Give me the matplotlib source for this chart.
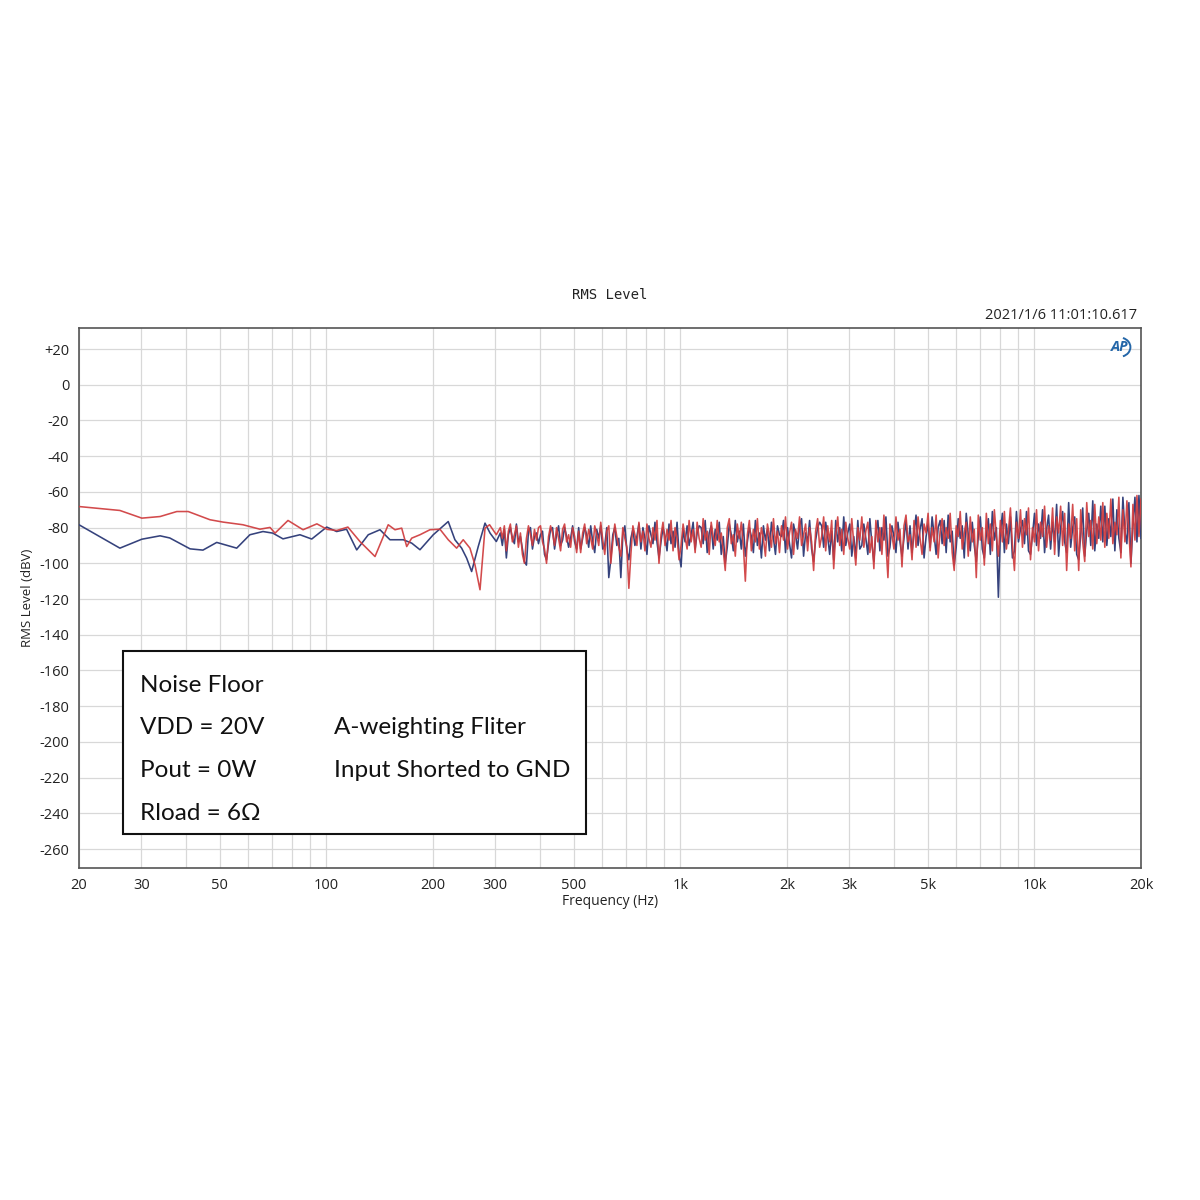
import numpy as np
import matplotlib
matplotlib.use("Agg")
import matplotlib.pyplot as plt
from matplotlib.patches import Rectangle, Arc
from matplotlib.ticker import FixedLocator, FixedFormatter, NullFormatter

# ---------------------------------------------------------------------------
# Data (dBV vs Hz)
# ---------------------------------------------------------------------------
# low-frequency part: smooth, the two channels are clearly separate
low_freq_red = [20, 26.1, 30.1, 33.9, 37.8, 40.7, 46.9, 51, 58.1, 64.9, 69.3,
                71.6, 77.9, 85.9, 94, 100.5, 107, 115, 124.4, 137.2, 149.5,
                156.2, 163.2, 168.6, 174.2, 183.8, 196.1, 209.3, 220.9, 233.3,
                243.5, 254.4, 262.8, 271.6, 280.6, 289, 302]
low_red_dbv = [-68.2, -70.4, -74.7, -73.8, -71, -71, -75.6, -76.9, -78.4, -80.9,
               -79.9, -83.1, -76, -81.2, -77.9, -81, -81.6, -79.7, -87.8, -96.2,
               -78.4, -81.2, -80.3, -90.6, -85.9, -84, -81.2, -80.9, -86.8,
               -91.5, -86.8, -91.5, -100.8, -114.8, -80.3, -78.4, -84]

low_freq_blue = [20, 26.1, 30.1, 33.9, 36.1, 41.2, 44.8, 49, 55.8, 60.8, 66.2,
                 70.6, 75.4, 84.2, 90.9, 100.2, 106.9, 114, 121.8, 131.3, 141.7,
                 151.2, 164.9, 174.2, 183.8, 200.4, 220.9, 230.7, 241, 249,
                 257.2, 268.5, 280.6, 290, 302]
low_blue_dbv = [-78.4, -91.5, -86.5, -84.6, -85.8, -91.9, -92.6, -88.3, -91.5,
                -84, -82.2, -83.1, -86.3, -84, -86.4, -79.7, -82.2, -80.9,
                -92.5, -84, -81.2, -86.8, -86.8, -88.7, -92.4, -84, -76.6,
                -86.8, -91.5, -97.1, -104.6, -90.6, -77.5, -83.1, -87.8]

# dense part (310 Hz .. 20 kHz), one reading per plotted bin
red_dbv_dense = [
    -80, -86, -79, -93, -82, -78, -88, -84, -79, -91, -83, -95, -100, -86, -79, -84, -90, -81, -87, -80,
    -79, -88, -92, -100, -85, -79, -83, -90, -80, -86, -93, -81, -78, -88, -84, -91, -80, -85, -94, -82,
    -94, -83, -78, -89, -81, -86, -92, -79, -84, -90, -77, -87, -95, -82, -79, -100, -88, -78, -85, -91,
    -96, -80, -86, -91, -114, -95, -79, -84, -90, -77, -88, -82, -93, -78, -86, -91, -80, -87, -76, -100,
    -84, -77, -90, -81, -87, -76, -93, -80, -86, -98, -90, -78, -85, -92, -76, -88, -81, -94, -77, -86,
    -91, -75, -87, -82, -95, -77, -85, -90, -76, -88, -83, -93, -104, -80, -75, -89, -84, -96, -78, -86,
    -77, -90, -110, -84, -76, -93, -81, -88, -75, -92, -80, -86, -96, -78, -84, -91, -75, -89, -82, -94,
    -79, -87, -74, -92, -83, -77, -95, -81, -86, -74, -90, -84, -78, -93, -80, -88, -104, -82, -75, -91,
    -85, -74, -93, -79, -88, -76, -103, -84, -74, -90, -81, -95, -77, -86, -92, -75, -89, -101, -80, -87,
    -74, -91, -82, -77, -94, -85, -103, -76, -88, -80, -95, -73, -89, -108, -78, -84, -92, -74, -87, -81,
    -102, -79, -73, -88, -84, -98, -76, -91, -74, -86, -95, -78, -83, -72, -93, -80, -88, -73, -97, -82,
    -75, -90, -80, -86, -72, -94, -104, -79, -85, -71, -92, -83, -77, -96, -74, -88, -81, -108, -73, -87,
    -80, -101, -72, -89, -78, -93, -70, -85, -96, -76, -88, -71, -92, -82, -69, -90, -104, -77, -86, -70,
    -91, -75, -84, -69, -98, -80, -88, -70, -93, -77, -85, -68, -91, -79, -87, -69, -95, -74, -83, -68,
    -90, -72, -104, -78, -86, -67, -93, -75, -104, -70, -88, -99, -66, -85, -76, -92, -67, -89, -74, -87,
    -66, -91, -72, -86, -64, -89, -77, -84, -63, -97, -70, -88, -65, -83, -102, -67, -87, -62, -85, -64,
]
blue_dbv_dense = [
    -83, -90, -81, -97, -84, -80, -86, -89, -78, -88, -85, -92, -99, -101, -82, -80, -92, -85, -83, -89,
    -84, -82, -95, -98, -89, -81, -80, -92, -84, -79, -90, -87, -80, -85, -91, -86, -79, -88, -92, -80,
    -92, -86, -80, -84, -91, -79, -88, -94, -81, -86, -79, -92, -90, -80, -108, -98, -84, -80, -90, -86,
    -108, -84, -79, -93, -98, -86, -81, -90, -85, -78, -92, -80, -86, -95, -79, -84, -89, -77, -88, -97,
    -88, -80, -85, -93, -78, -89, -82, -91, -77, -95, -102, -81, -88, -79, -90, -84, -77, -92, -83, -79,
    -80, -89, -76, -94, -83, -79, -92, -81, -87, -77, -95, -85, -100, -91, -78, -84, -93, -76, -88, -82,
    -92, -78, -96, -88, -80, -85, -94, -76, -90, -83, -97, -79, -87, -81, -93, -77, -86, -95, -79, -84,
    -85, -76, -94, -80, -89, -97, -78, -84, -92, -79, -75, -96, -83, -88, -76, -92, -99, -87, -80, -77,
    -79, -91, -77, -85, -95, -82, -98, -76, -88, -80, -93, -74, -90, -83, -78, -96, -85, -97, -76, -92,
    -90, -78, -86, -95, -75, -89, -99, -83, -76, -93, -80, -87, -74, -96, -91, -79, -85, -94, -77, -88,
    -96, -86, -76, -92, -79, -94, -83, -73, -90, -81, -75, -97, -85, -78, -91, -74, -84, -95, -80, -76,
    -89, -76, -94, -73, -88, -82, -101, -91, -75, -86, -79, -97, -72, -84, -93, -77, -90, -99, -85, -74,
    -92, -97, -84, -75, -95, -71, -87, -80, -119, -83, -72, -94, -78, -89, -74, -97, -93, -71, -88, -81,
    -76, -89, -71, -93, -95, -84, -72, -90, -78, -86, -70, -94, -81, -73, -92, -77, -88, -67, -96, -80,
    -71, -88, -94, -66, -91, -80, -74, -95, -98, -84, -69, -96, -82, -72, -90, -65, -93, -78, -86, -68,
    -88, -68, -90, -75, -85, -64, -93, -70, -86, -94, -63, -82, -89, -66, -100, -79, -63, -88, -62, -86,
]

x_tick_vals = [20, 30, 50, 100, 200, 300, 500, 1000, 2000, 3000, 5000, 10000, 20000]
x_tick_text = ["20", "30", "50", "100", "200", "300", "500", "1k", "2k", "3k", "5k", "10k", "20k"]
y_tick_vals = list(range(20, -261, -20))
y_tick_text = ["+20"] + [str(v) for v in y_tick_vals[1:]]

note_left = ["Noise Floor", "VDD = 20V", "Pout = 0W", "Rload = 6Ω"]
note_right = ["", "A-weighting Fliter", "Input Shorted to GND", ""]

# ---------------------------------------------------------------------------
# Assemble the traces
# ---------------------------------------------------------------------------
red_freq = np.concatenate([low_freq_red, np.geomspace(310, 20000, len(red_dbv_dense))])
red_dbv = np.concatenate([low_red_dbv, red_dbv_dense])
blue_freq = np.concatenate([low_freq_blue, np.geomspace(310, 20000, len(blue_dbv_dense))])
blue_dbv = np.concatenate([low_blue_dbv, blue_dbv_dense])

plt.rcParams['font.family'] = ['Open Sans', 'DejaVu Sans']

fig = plt.figure(figsize=(12, 12), dpi=100)
ax = fig.add_axes([0.0658, 0.2767, 0.885, 0.45])

ax.plot(blue_freq, blue_dbv, color='#35427c', linewidth=1.15, zorder=3)
ax.plot(red_freq, red_dbv, color='#cf3b3d', linewidth=1.15, alpha=0.92, zorder=4)

ax.set_xscale('log')
ax.set_xlim(20, 20000)
ax.set_ylim(-270.6, 31.8)

ax.xaxis.set_major_locator(FixedLocator(x_tick_vals))
ax.xaxis.set_major_formatter(FixedFormatter(x_tick_text))
ax.xaxis.set_minor_formatter(NullFormatter())
ax.yaxis.set_major_locator(FixedLocator(y_tick_vals))
ax.yaxis.set_major_formatter(FixedFormatter(y_tick_text))

ax.grid(True, which='both', axis='x', color='#d8d8d8', linewidth=0.9)
ax.grid(True, which='major', axis='y', color='#d8d8d8', linewidth=0.9)
ax.tick_params(which='both', length=0, labelsize=10.5, pad=7, colors='#222222')

for side in ax.spines.values():
    side.set_color('#555555')
    side.set_linewidth(1.2)

ax.set_xlabel('Frequency (Hz)', fontsize=10, labelpad=1, color='#222222')
ax.set_ylabel('RMS Level (dBV)', fontsize=9.5, labelpad=4, color='#222222')

fig.text(0.508, 0.754, 'RMS Level', family='DejaVu Sans Mono', fontsize=10,
         ha='center', va='center', color='#222222')
fig.text(0.948, 0.737, '2021/1/6 11:01:10.617', fontsize=10.5,
         ha='right', va='center', color='#222222')

# Audio Precision badge, top right
ax.text(0.9795, 0.9655, 'AP', transform=ax.transAxes, fontsize=10.5, style='italic',
        weight='bold', color='#2466a8', ha='center', va='center', zorder=6)
badge = Arc((0.933, 0.7107), 0.018, 0.016, theta1=-70, theta2=70,
            transform=fig.transFigure, color='#2466a8', linewidth=1.4)
fig.patches.append(badge)

# note box
box = Rectangle((0.1025, 0.305), 0.386, 0.1525, transform=fig.transFigure,
                facecolor='white', edgecolor='#111111', linewidth=1.5, zorder=5)
fig.patches.append(box)
line_y = [0.429, 0.394, 0.358, 0.3225]
for y, left, right in zip(line_y, note_left, note_right):
    fig.text(0.1165, y, left, family=['Lato', 'DejaVu Sans'], fontsize=17.5,
             ha='left', va='center', color='#111111', zorder=6)
    if right:
        fig.text(0.278, y, right, family=['Lato', 'DejaVu Sans'], fontsize=17.5,
                 ha='left', va='center', color='#111111', zorder=6)

fig.savefig('out.png', dpi=100, facecolor='white')
